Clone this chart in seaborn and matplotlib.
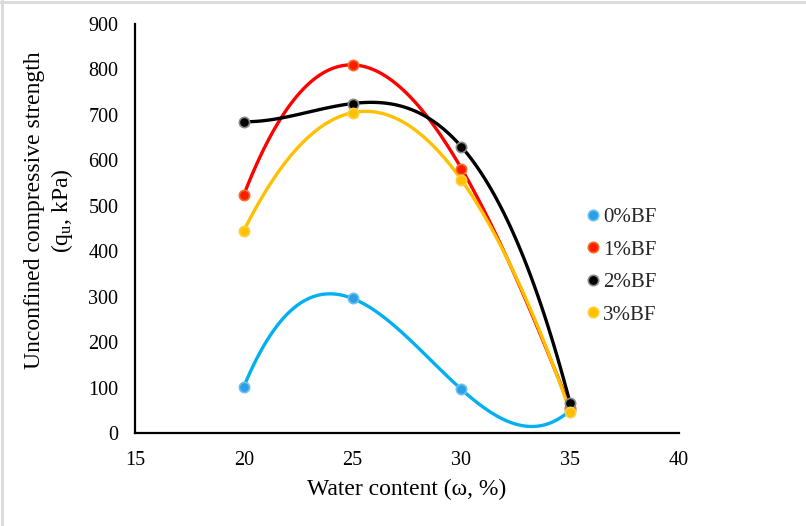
import numpy as np
import pandas as pd
import matplotlib
matplotlib.use("Agg")
import matplotlib.pyplot as plt
from matplotlib.lines import Line2D
import seaborn as sns

# ---- data ----
water_content = [20, 25, 30, 35]
bf0 = [102, 296, 96, 50]
bf1 = [524, 810, 582, 55]
bf2 = [685, 725, 630, 65]
bf3 = [445, 705, 557, 47]
series_names = ["0%BF", "1%BF", "2%BF", "3%BF"]
x_ticks = [15, 20, 25, 30, 35, 40]
y_ticks = [0, 100, 200, 300, 400, 500, 600, 700, 800, 900]

line_colors = ["#00B0F0", "#FF0000", "#000000", "#FFC000"]
marker_colors = ["#2A9FE6", "#FF1A00", "#000000", "#FFC000"]
marker_edges = ["#6EC0EE", "#F2702A", "#8A8A8A", "#FFCF40"]

sns.set_theme(style="white")
plt.rcParams["font.family"] = ["Liberation Serif", "DejaVu Serif"]
plt.rcParams["mathtext.fontset"] = "custom"
plt.rcParams["mathtext.rm"] = "Liberation Serif"
plt.rcParams["mathtext.it"] = "Liberation Serif:italic"

fig = plt.figure(figsize=(8.06, 5.26), dpi=100)
ax = fig.add_axes([135 / 806, 1 - 433 / 526, (679 - 135) / 806, (433 - 24) / 526])

all_series = [bf0, bf1, bf2, bf3]
for name, vals, lc in zip(series_names, all_series, line_colors):
    sns.regplot(x=np.array(water_content, dtype=float), y=np.array(vals, dtype=float),
                order=3, ci=None, scatter=False, truncate=True, ax=ax,
                color=lc, line_kws=dict(lw=2.4, solid_capstyle="round"))

for name, vals, mc, me in zip(series_names, all_series, marker_colors, marker_edges):
    ax.scatter(water_content, vals, s=55, color=mc, edgecolor=me, linewidth=1.2,
               zorder=5, label=name)

ax.set_xlim(15, 40)
ax.set_ylim(0, 900)
ax.set_xticks(x_ticks)
ax.set_yticks(y_ticks)
ax.tick_params(axis="both", direction="in", length=5, width=1.4, labelsize=14.5,
               colors="black")
ax.tick_params(axis="x", pad=13)
ax.tick_params(axis="y", pad=12)
for side in ["top", "right"]:
    ax.spines[side].set_visible(False)
for side in ["left", "bottom"]:
    ax.spines[side].set_color("black")
    ax.spines[side].set_linewidth(1.6)

ax.set_xlabel("Water content (ω, %)", fontsize=17, color="black", labelpad=6)
ax.set_ylabel("Unconfined compressive strength\n(q$_\\mathregular{u}$, kPa)",
              fontsize=17, color="black", linespacing=1.2)
ax.yaxis.set_label_coords(-0.11, 0.545)

handles = [Line2D([0], [0], marker="o", linestyle="none", markersize=7.5,
                  markerfacecolor=mc, markeredgecolor=me, markeredgewidth=1.2)
           for mc, me in zip(marker_colors, marker_edges)]
leg = ax.legend(handles, series_names, loc="upper left",
                bbox_to_anchor=(573 / 806, 1 - 193 / 526), bbox_transform=fig.transFigure,
                frameon=False, fontsize=15, handlelength=0.5, handletextpad=0.25,
                labelspacing=0.62, borderpad=0.2)

# light grey frame on top and left edges
fig.add_artist(Line2D([0, 1], [1 - 2 / 526, 1 - 2 / 526], transform=fig.transFigure,
                      color="#D9D9D9", lw=2))
fig.add_artist(Line2D([2 / 806, 2 / 806], [0, 1], transform=fig.transFigure,
                      color="#D9D9D9", lw=2))

fig.savefig("out.png", dpi=100, facecolor="white")
